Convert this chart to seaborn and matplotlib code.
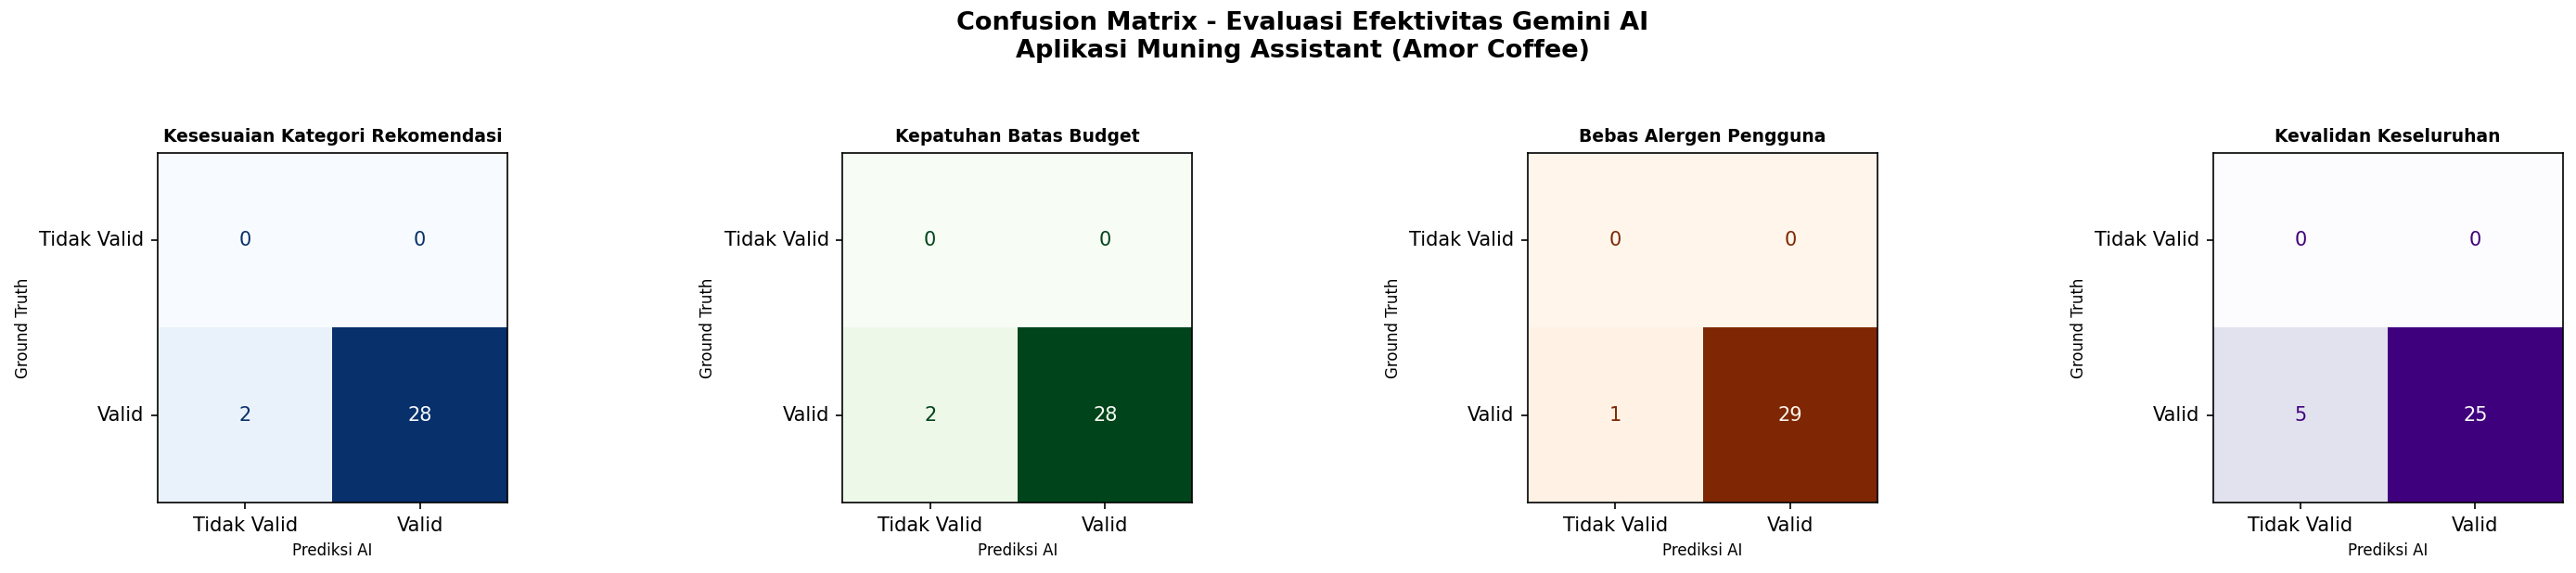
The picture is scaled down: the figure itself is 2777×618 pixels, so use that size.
import matplotlib
matplotlib.use("Agg")
import matplotlib.pyplot as plt
import numpy as np
import seaborn as sns

# data
labels = ['Tidak Valid', 'Valid']
titles = ['Kesesuaian Kategori Rekomendasi', 'Kepatuhan Batas Budget',
          'Bebas Alergen Pengguna', 'Kevalidan Keseluruhan']
cmaps = ['Blues', 'Greens', 'Oranges', 'Purples']
cm_kategori = [[0, 0], [2, 28]]
cm_budget = [[0, 0], [2, 28]]
cm_alergen = [[0, 0], [1, 29]]
cm_keseluruhan = [[0, 0], [5, 25]]
matrices = [cm_kategori, cm_budget, cm_alergen, cm_keseluruhan]

dpi = 150
fig, axes = plt.subplots(1, 4, figsize=(2777 / dpi, 618 / dpi), dpi=dpi)
fig.subplots_adjust(left=0.061, right=0.995, bottom=0.123, top=0.733, wspace=0.954)

for ax, cm, title, cmap_name in zip(axes, matrices, titles, cmaps):
    cm = np.array(cm)
    cmap = plt.get_cmap(cmap_name)
    sns.heatmap(cm, annot=True, fmt='d', cmap=cmap, cbar=False, square=True,
                xticklabels=labels, yticklabels=labels, ax=ax,
                annot_kws={'fontsize': 10})
    # warna teks seperti ConfusionMatrixDisplay
    thresh = (cm.max() + cm.min()) / 2.0
    for txt, val in zip(ax.texts, cm.flatten()):
        txt.set_color(cmap(1.0) if val < thresh else cmap(0.0))
    for s in ax.spines.values():
        s.set_visible(True)
        s.set_linewidth(0.8)
        s.set_color('black')
    ax.tick_params(axis='both', length=3.5, width=0.8, labelsize=10)
    ax.set_yticklabels(labels, rotation=0, va='center')
    ax.set_xticklabels(labels, rotation=0)
    ax.set_title(title, fontsize=9, fontweight='bold')
    ax.set_xlabel('Prediksi AI', fontsize=8)
    ax.set_ylabel('Ground Truth', fontsize=8)

fig.suptitle('Confusion Matrix - Evaluasi Efektivitas Gemini AI\nAplikasi Muning Assistant (Amor Coffee)',
             fontsize=13, fontweight='bold', x=0.5056, y=0.98)

fig.savefig('out.png', dpi=dpi)
plt.close()
